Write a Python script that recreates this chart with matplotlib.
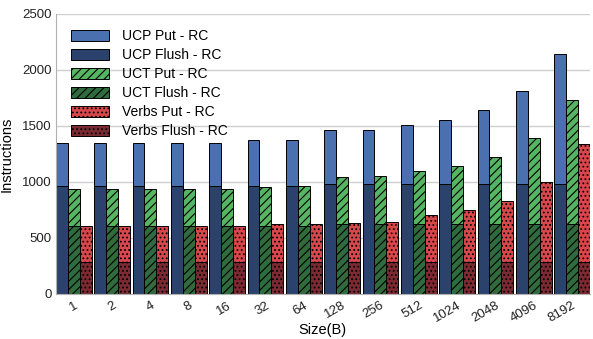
import numpy as np
import matplotlib
matplotlib.use("Agg")
import matplotlib.pyplot as plt

plt.rcParams['font.family'] = ['Liberation Sans', 'DejaVu Sans']
plt.rcParams['hatch.linewidth'] = 0.8

sizes = ['1', '2', '4', '8', '16', '32', '64', '128', '256', '512',
         '1024', '2048', '4096', '8192']

ucp_put = [1350, 1350, 1350, 1350, 1350, 1370, 1375, 1460, 1465, 1510,
           1555, 1640, 1810, 2145]
ucp_flush = [960, 960, 960, 960, 960, 960, 960, 985, 985, 985,
             985, 985, 985, 985]
uct_put = [940, 940, 940, 940, 940, 955, 960, 1040, 1050, 1100,
           1145, 1225, 1395, 1730]
uct_flush = [603, 603, 603, 603, 603, 605, 605, 628, 628, 628,
             628, 628, 628, 628]
verbs_put = [610, 610, 610, 610, 610, 625, 627, 635, 640, 705,
             748, 830, 1000, 1335]
verbs_flush = [281] * 14

x = np.arange(len(sizes))
w = 0.31

fig, ax = plt.subplots(figsize=(5.93, 3.39), dpi=100)
fig.subplots_adjust(left=0.094, right=0.995, bottom=0.133, top=0.959)

ax.yaxis.grid(True, color='#cfcfcf', linewidth=1)
ax.set_axisbelow(True)

lw = 0.7
ax.bar(x - w, ucp_put, w, color='#4a70b0', edgecolor='black', lw=lw, label='UCP Put - RC')
ax.bar(x - w, ucp_flush, w, color='#2b426c', edgecolor='black', lw=lw, label='UCP Flush - RC')
ax.bar(x, uct_put, w, color='#56b563', edgecolor='black', lw=lw, hatch='////', label='UCT Put - RC')
ax.bar(x, uct_flush, w, color='#2f6b3c', edgecolor='black', lw=lw, hatch='////', label='UCT Flush - RC')
ax.bar(x + w, verbs_put, w, color='#d9474d', edgecolor='black', lw=lw, hatch='....', label='Verbs Put - RC')
ax.bar(x + w, verbs_flush, w, color='#7a2a30', edgecolor='black', lw=lw, hatch='....', label='Verbs Flush - RC')

ax.set_xlim(-0.47, len(sizes) - 0.53)
ax.set_ylim(0, 2500)
ax.set_yticks(range(0, 2501, 500))
ax.set_xticks(x)
ax.set_xticklabels(sizes, rotation=30, ha='right', rotation_mode='anchor')
ax.tick_params(length=0, labelsize=9.5, colors='#222222')
ax.tick_params(axis='x', pad=4)
ax.tick_params(axis='y', pad=3)

for s in ['top', 'right']:
    ax.spines[s].set_visible(False)
for s in ['left', 'bottom']:
    ax.spines[s].set_color('#b0b0b0')

ax.set_xlabel('Size(B)', fontsize=10.5, labelpad=-1)
ax.set_ylabel('Instructions', fontsize=10.5, labelpad=6)

ax.legend(loc='upper left', frameon=False, fontsize=10, handlelength=2.7,
          handleheight=0.8, labelspacing=0.36, borderaxespad=0.7,
          handletextpad=1.0)

fig.savefig('out.png', dpi=100)
